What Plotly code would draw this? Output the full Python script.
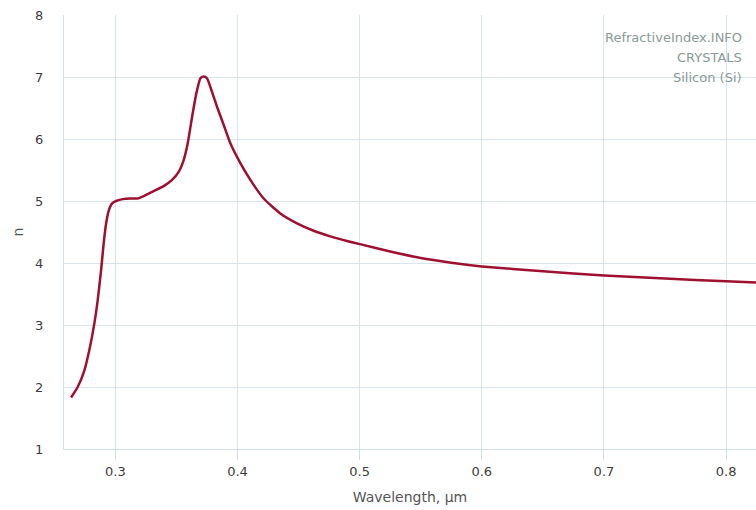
import plotly.graph_objects as go

wavelength = [0.2637, 0.2691, 0.2746, 0.2787, 0.2828, 0.2855, 0.2883, 0.2904, 0.2924, 0.2943,
              0.2965, 0.2985, 0.3006, 0.3060, 0.3120, 0.3178, 0.3232, 0.3313, 0.3395, 0.3464,
              0.3518, 0.3559, 0.3592, 0.3628, 0.3663, 0.3696, 0.3723, 0.3750, 0.3791, 0.3832,
              0.3886, 0.3941, 0.4023, 0.4105, 0.4214, 0.4350, 0.4487, 0.4623, 0.4759, 0.4896,
              0.5010, 0.5250, 0.5500, 0.5750, 0.6000, 0.6500, 0.7000, 0.7500, 0.8000, 0.8266]
n_values = [1.83, 2.00, 2.27, 2.60, 3.03, 3.40, 3.89, 4.32, 4.64, 4.83,
            4.94, 4.98, 5.00, 5.03, 5.04, 5.04, 5.08, 5.16, 5.24, 5.34,
            5.47, 5.66, 5.93, 6.36, 6.74, 6.98, 7.01, 6.98, 6.76, 6.52,
            6.23, 5.93, 5.61, 5.34, 5.04, 4.80, 4.64, 4.52, 4.43, 4.355,
            4.30, 4.185, 4.08, 4.005, 3.945, 3.865, 3.80, 3.75, 3.705, 3.685]

x_ticks = [0.3, 0.4, 0.5, 0.6, 0.7, 0.8]
y_ticks = [1, 2, 3, 4, 5, 6, 7, 8]
info_lines = ["RefractiveIndex.INFO", "CRYSTALS", "Silicon (Si)"]

grid = "#d9e5eb"
axis_line = "#cfe0ea"
font = "DejaVu Sans"

fig = go.Figure()
fig.add_trace(go.Scatter(x=wavelength, y=n_values, mode="lines",
                         line=dict(color="#9e102f", width=2.5, shape="spline", smoothing=0.5),
                         hoverinfo="skip", showlegend=False))

fig.update_layout(
    width=756, height=510,
    margin=dict(l=63.5, r=0, t=15, b=61),
    paper_bgcolor="white", plot_bgcolor="white",
    font=dict(family=font, size=13, color="#3d3d3d"),
    xaxis=dict(range=[0.2579, 0.8245], tickvals=x_ticks, ticktext=[str(v) for v in x_ticks],
               showgrid=True, gridcolor=grid, gridwidth=1,
               showline=True, linecolor=axis_line, linewidth=1,
               ticks="outside", ticklen=10, tickcolor=axis_line, tickwidth=1,
               zeroline=False,
               title=dict(text="Wavelength, µm", font=dict(size=14, color="#555"), standoff=14)),
    yaxis=dict(range=[1, 8], tickvals=y_ticks,
               showgrid=True, gridcolor=grid, gridwidth=1,
               showline=True, linecolor=axis_line, linewidth=1,
               ticks="outside", ticklen=17, tickcolor="rgba(0,0,0,0)",
               zeroline=False,
               title=dict(text="n", font=dict(size=14, color="#555"), standoff=8)),
)

for i, txt in enumerate(info_lines):
    fig.add_annotation(text=txt, xref="paper", yref="paper",
                       x=(744 - 63.5) / 692.5, y=(449 - 37 - 20 * i) / 434,
                       xanchor="right", yanchor="middle", showarrow=False,
                       font=dict(family=font, size=13, color="#8a9a96"))

fig.write_html("out.html", config={"displayModeBar": False},
               post_script="document.body.style.margin='0';document.body.style.overflow='hidden';")
